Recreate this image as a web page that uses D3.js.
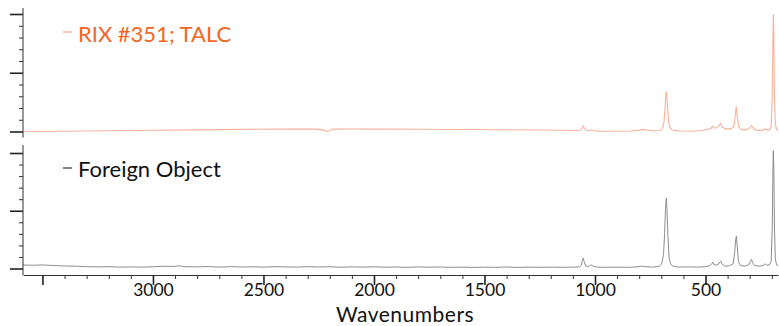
<!DOCTYPE html>
<html>
<head>
<meta charset="utf-8">
<script src="https://cdn.jsdelivr.net/npm/d3@7"></script>
<style>
  body { margin: 0; background: #fff; }
  text { font-family: Lato, "Open Sans", sans-serif; }
</style>
</head>
<body>
<div id="chart"></div>
<script>
// spectra: [wavenumber, relative intensity]
const talcName = "RIX #351; TALC";
const talc = [
  [3588, 0.0], [3400, 0.002], [3200, 0.006], [3000, 0.01], [2800, 0.014], [2600, 0.018],
  [2400, 0.02], [2260, 0.02], [2225, 0.012], [2212, 0.0], [2200, 0.008], [2185, 0.02],
  [2100, 0.021], [2000, 0.02], [1800, 0.019], [1600, 0.017], [1400, 0.015], [1250, 0.013],
  [1150, 0.01], [1080, 0.006], [1065, 0.012], [1058, 0.03], [1053, 0.047], [1048, 0.03],
  [1040, 0.01], [1030, 0.006], [1020, 0.012], [1015, 0.015], [1008, 0.008], [990, 0.003],
  [900, 0.002], [840, 0.004], [800, 0.012], [785, 0.018], [770, 0.014], [740, 0.006],
  [705, 0.008], [695, 0.025], [688, 0.08], [683, 0.2], [679, 0.33], [676, 0.335],
  [672, 0.22], [667, 0.08], [660, 0.03], [650, 0.012], [620, 0.004], [560, 0.002],
  [520, 0.008], [490, 0.018], [475, 0.028], [468, 0.045], [461, 0.03], [450, 0.032],
  [440, 0.045], [436, 0.06], [431, 0.07], [426, 0.04], [410, 0.022], [385, 0.022],
  [372, 0.04], [366, 0.12], [361, 0.215], [356, 0.12], [350, 0.04], [340, 0.02],
  [325, 0.012], [305, 0.022], [296, 0.04], [291, 0.048], [285, 0.03], [275, 0.014],
  [255, 0.01], [240, 0.012], [230, 0.022], [224, 0.014], [212, 0.012], [203, 0.04],
  [198, 0.3], [195, 0.8], [193, 1.0], [191, 0.85], [188, 0.3], [184, 0.06], [178, 0.015], [172, 0.01]
];

const foreignName = "Foreign Object";
const foreign = [
  [3588, 0.03], [3540, 0.028], [3500, 0.031], [3450, 0.026], [3400, 0.022], [3350, 0.02],
  [3300, 0.016], [3250, 0.014], [3200, 0.016], [3150, 0.012], [3100, 0.014], [3050, 0.012],
  [3000, 0.015], [2950, 0.02], [2900, 0.018], [2880, 0.024], [2860, 0.016], [2800, 0.014],
  [2750, 0.017], [2700, 0.012], [2650, 0.016], [2600, 0.013], [2550, 0.015], [2500, 0.012],
  [2450, 0.016], [2400, 0.014], [2350, 0.012], [2300, 0.016], [2250, 0.013], [2200, 0.015],
  [2150, 0.011], [2100, 0.014], [2050, 0.012], [2000, 0.015], [1950, 0.011], [1900, 0.013],
  [1850, 0.01], [1800, 0.014], [1750, 0.011], [1700, 0.013], [1650, 0.01], [1600, 0.012],
  [1550, 0.009], [1500, 0.012], [1450, 0.01], [1400, 0.013], [1350, 0.009], [1300, 0.012],
  [1250, 0.01], [1200, 0.012], [1150, 0.01], [1100, 0.012], [1070, 0.014], [1062, 0.03],
  [1057, 0.07], [1053, 0.09], [1049, 0.06], [1042, 0.02], [1030, 0.018], [1020, 0.028],
  [1015, 0.03], [1008, 0.018], [990, 0.012], [950, 0.01], [900, 0.012], [850, 0.01],
  [810, 0.014], [790, 0.02], [775, 0.016], [740, 0.012], [710, 0.018], [698, 0.04],
  [690, 0.12], [685, 0.3], [681, 0.52], [677, 0.61], [674, 0.5], [670, 0.28], [665, 0.1],
  [658, 0.04], [648, 0.02], [620, 0.012], [580, 0.014], [530, 0.012], [500, 0.016],
  [480, 0.024], [472, 0.04], [467, 0.056], [462, 0.035], [452, 0.028], [440, 0.04],
  [435, 0.058], [431, 0.065], [426, 0.04], [415, 0.022], [395, 0.022], [375, 0.04],
  [368, 0.14], [363, 0.26], [360, 0.28], [356, 0.18], [351, 0.06], [342, 0.026],
  [325, 0.02], [305, 0.03], [297, 0.06], [292, 0.08], [287, 0.05], [278, 0.025],
  [255, 0.02], [240, 0.026], [230, 0.04], [224, 0.03], [212, 0.03], [203, 0.06],
  [198, 0.35], [195, 0.85], [193, 1.02], [191, 0.88], [188, 0.35], [184, 0.08], [178, 0.03], [172, 0.025]
];

const majorTicks = [3500, 3000, 2500, 2000, 1500, 1000, 500];
const minorTicks = d3.range(3500, 199, -100).filter(v => v % 500 !== 0);
const yMajor = [0, 0.5, 1];
const yMinor = [0.1, 0.2, 0.3, 0.4, 0.6, 0.7, 0.8, 0.9];

// dimensions
const width = 779,
    height = 326;

const svg = d3.select("#chart")
    .append("svg")
    .attr("width", width)
    .attr("height", height);

// scales
const xScale = d3.scaleLinear()
    .domain([3588, 172])
    .range([23, 778]);

const yTop = d3.scaleLinear().domain([0, 1]).range([131.5, 14]);
const yBot = d3.scaleLinear().domain([0, 1]).range([268.5, 153]);

// traces
const lineTop = d3.line().x(d => xScale(d[0])).y(d => yTop(d[1]));
const lineBot = d3.line().x(d => xScale(d[0])).y(d => yBot(d[1]));

svg.append("path")
    .datum(talc)
    .attr("d", lineTop)
    .attr("fill", "none")
    .attr("stroke", "#f8b29a")
    .attr("stroke-width", 1.1);

svg.append("path")
    .datum(foreign)
    .attr("d", lineBot)
    .attr("fill", "none")
    .attr("stroke", "#808080")
    .attr("stroke-width", 0.9);

// y axes for both panels
[[yTop, 8, 137.5], [yBot, 145, 275]].forEach(([y, y0, y1]) => {
    const gMaj = svg.append("g")
        .attr("transform", "translate(23,0)")
        .call(d3.axisLeft(y).tickValues(yMajor).tickSize(13).tickFormat(""));
    const gMin = svg.append("g")
        .attr("transform", "translate(23,0)")
        .call(d3.axisLeft(y).tickValues(yMinor).tickSize(4).tickFormat(""));
    gMaj.select(".domain").remove();
    gMin.select(".domain").remove();
    gMaj.selectAll("line").attr("stroke", "#222").attr("stroke-width", 1.6);
    gMin.selectAll("line").attr("stroke", "#333");
    svg.append("line")
        .attr("x1", 23).attr("x2", 23)
        .attr("y1", y0).attr("y2", y1)
        .attr("stroke", "#333");
});

// x axis
const xMaj = svg.append("g")
    .attr("transform", "translate(0,275)")
    .call(d3.axisBottom(xScale).tickValues(majorTicks).tickSize(10).tickSizeOuter(0)
        .tickFormat(d => d === 3500 ? "" : d));
xMaj.select(".domain").attr("stroke", "#333");
xMaj.selectAll("line").attr("stroke", "#222").attr("stroke-width", 1.6);
xMaj.selectAll("text")
    .attr("y", 9)
    .attr("fill", "#111")
    .style("font-size", "17.5px")
    .style("font-family", "Lato, sans-serif");

const xMin = svg.append("g")
    .attr("transform", "translate(0,275)")
    .call(d3.axisBottom(xScale).tickValues(minorTicks).tickSize(4).tickFormat(""));
xMin.select(".domain").remove();
xMin.selectAll("line").attr("stroke", "#333");

// axis title
svg.append("text")
    .attr("x", 405)
    .attr("y", 321.5)
    .attr("text-anchor", "middle")
    .attr("fill", "#111")
    .style("font-size", "21px")
    .style("letter-spacing", "0.5px")
    .text("Wavenumbers");

// legends
const legends = [[talcName, "#f26524", "#f8a88a", 42, 32], [foreignName, "#111", "#333", 177, 168]];
legends.forEach(([name, color, dash, ty, dy]) => {
    svg.append("line")
        .attr("x1", 63).attr("x2", 72)
        .attr("y1", dy).attr("y2", dy)
        .attr("stroke", dash)
        .attr("stroke-width", 1.2);
    svg.append("text")
        .attr("x", 78)
        .attr("y", ty)
        .attr("fill", color)
        .style("font-size", "22px")
        .text(name);
});
</script>
</body>
</html>
